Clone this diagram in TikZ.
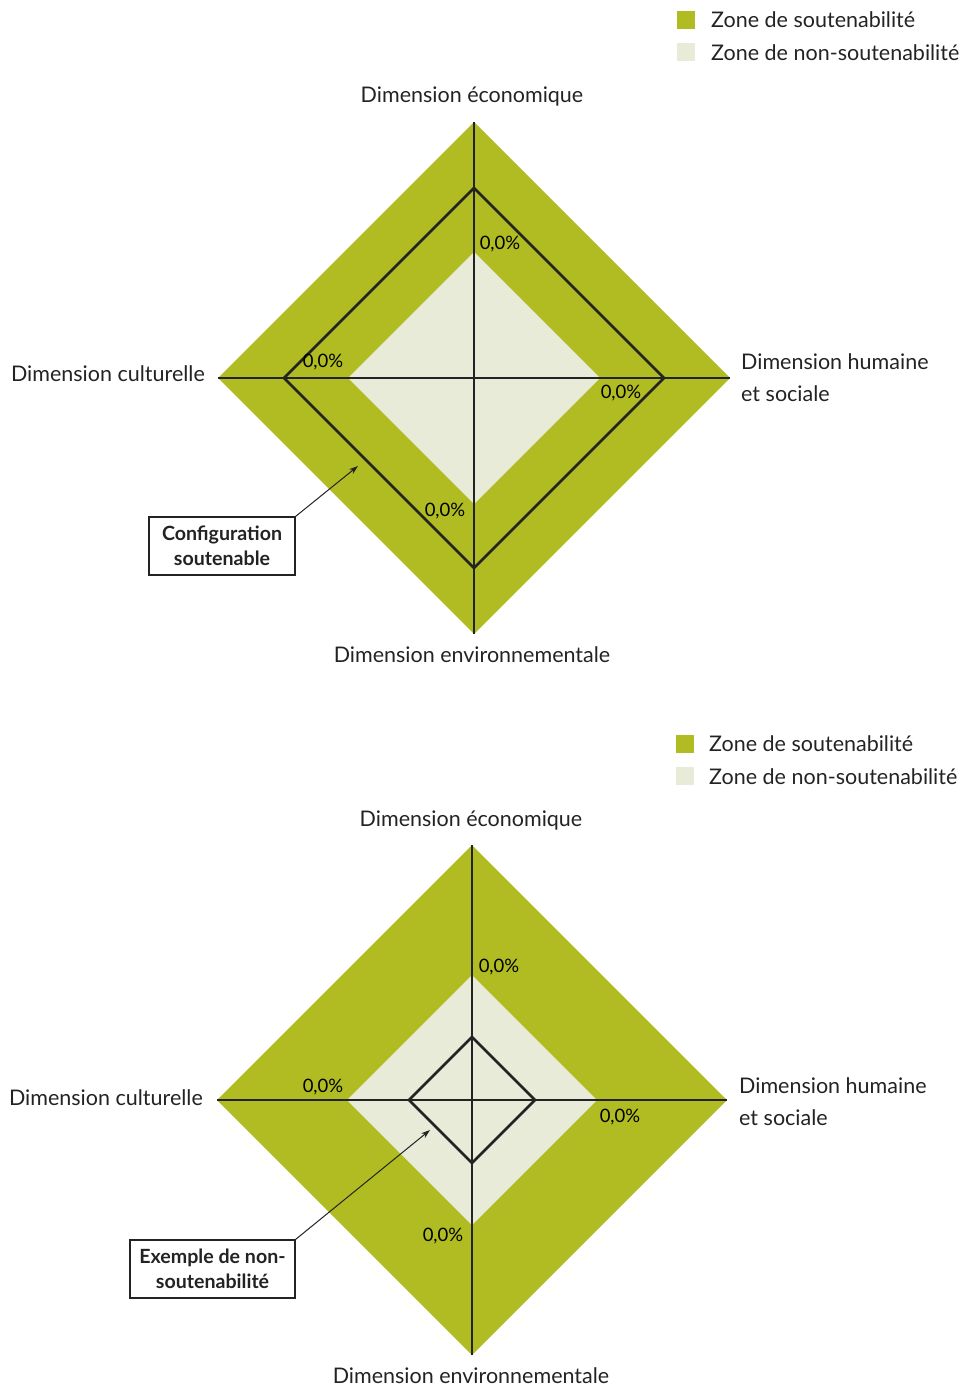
\documentclass[tikz,border=0pt]{standalone}
\usepackage{fontspec}
\setmainfont{Lato}
\usetikzlibrary{arrows.meta}
\definecolor{zgreen}{RGB}{176,188,33}
\definecolor{zlight}{RGB}{231,235,216}
\definecolor{ink}{RGB}{35,35,35}
\begin{document}
\begin{tikzpicture}[x=1pt,y=-1pt,
  lbl/.style={font=\fontsize{21.5}{32}\selectfont, inner sep=0pt, text=ink},
  pct/.style={font=\fontsize{18.5}{20}\selectfont, inner sep=0pt, text=black},
  callout/.style={draw=ink, line width=1.2pt, fill=white, font=\bfseries\fontsize{19.6}{25}\selectfont, align=center, text=ink, inner sep=0pt},
  axisline/.style={line width=1.1pt, draw=ink},
  config/.style={line width=2.6pt, draw=ink, line join=miter},
  pointer/.style={line width=1pt, draw=ink, -{Stealth[length=9pt,width=6pt]}},
  legsq/.style={minimum size=18pt, inner sep=0pt},
]
\useasboundingbox (0,0) rectangle (964,1388);

% ---------- top chart ----------
\coordinate (c1) at (474,378);
\fill[zgreen] ([yshift=-256]c1) -- ([xshift=256]c1) -- ([yshift=256]c1) -- ([xshift=-256]c1) -- cycle;
\fill[zlight] ([yshift=-126]c1) -- ([xshift=126]c1) -- ([yshift=126]c1) -- ([xshift=-126]c1) -- cycle;
\coordinate (t1n) at ([yshift=-256]c1);
\coordinate (t1s) at ([yshift=256]c1);
\coordinate (t1w) at ([xshift=-256]c1);
\coordinate (t1e) at ([xshift=256]c1);
\draw[axisline] (t1n) -- (t1s);
\draw[axisline] (t1w) -- (t1e);
\draw[config] ([yshift=-190]c1) -- ([xshift=190]c1) -- ([yshift=190]c1) -- ([xshift=-190]c1) -- cycle;

\node[pct] (p1n) at (500,244) {0,0\%};
\node[pct] (p1w) at (323,362) {0,0\%};
\node[pct] (p1e) at (621,393) {0,0\%};
\node[pct] (p1s) at (445,511) {0,0\%};

\node[lbl] (d1n) at (472,97) {Dimension économique};
\node[lbl] (d1s) at (472,655) {Dimension environnementale};
\node[lbl, anchor=east] (d1w) at (205,374) {Dimension culturelle};
\node[lbl, anchor=west, align=left] (d1e) at (741,378) {Dimension humaine\\et sociale};

\node[callout, minimum width=146pt, minimum height=58pt] (box1) at (222,546) {Configuration\\soutenable};
\coordinate (a1) at (358,466);
\draw[pointer] (box1.north east) -- (a1);

\node[legsq, fill=zgreen] (l1a) at (686,20) {};
\node[legsq, fill=zlight] (l1b) at (686,52) {};
\node[lbl, anchor=west] (l1at) at (711,20) {Zone de soutenabilité};
\node[lbl, anchor=west] (l1bt) at (711,53) {Zone de non-soutenabilité};

% ---------- bottom chart ----------
\coordinate (c2) at (472,1100);
\fill[zgreen] ([yshift=-255]c2) -- ([xshift=255]c2) -- ([yshift=255]c2) -- ([xshift=-255]c2) -- cycle;
\fill[zlight] ([yshift=-125]c2) -- ([xshift=125]c2) -- ([yshift=125]c2) -- ([xshift=-125]c2) -- cycle;
\coordinate (t2n) at ([yshift=-255]c2);
\coordinate (t2s) at ([yshift=255]c2);
\coordinate (t2w) at ([xshift=-255]c2);
\coordinate (t2e) at ([xshift=255]c2);
\draw[axisline] (t2n) -- (t2s);
\draw[axisline] (t2w) -- (t2e);
\draw[config] ([yshift=-63]c2) -- ([xshift=63]c2) -- ([yshift=63]c2) -- ([xshift=-63]c2) -- cycle;

\node[pct] (p2n) at (499,967) {0,0\%};
\node[pct] (p2w) at (323,1087) {0,0\%};
\node[pct] (p2e) at (620,1117) {0,0\%};
\node[pct] (p2s) at (443,1236) {0,0\%};

\node[lbl] (d2n) at (471,820) {Dimension économique};
\node[lbl] (d2s) at (471,1376) {Dimension environnementale};
\node[lbl, anchor=east] (d2w) at (203,1098) {Dimension culturelle};
\node[lbl, anchor=west, align=left] (d2e) at (739,1102) {Dimension humaine\\et sociale};

\node[callout, minimum width=165pt, minimum height=58pt] (box2) at (212.5,1269) {Exemple de non-\\soutenabilité};
\coordinate (a2) at (430,1130);
\draw[pointer] (box2.north east) -- (a2);

\node[legsq, fill=zgreen] (l2a) at (685,744) {};
\node[legsq, fill=zlight] (l2b) at (685,776) {};
\node[lbl, anchor=west] (l2at) at (709,744) {Zone de soutenabilité};
\node[lbl, anchor=west] (l2bt) at (709,777) {Zone de non-soutenabilité};
\end{tikzpicture}
\end{document}
